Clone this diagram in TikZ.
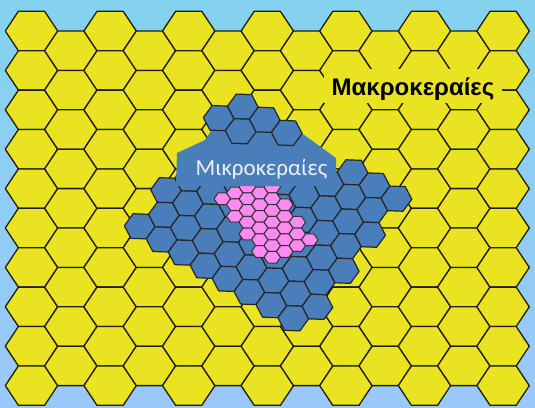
\documentclass[tikz,border=0pt]{standalone}
\usepackage{fontspec}
\setmainfont{Carlito}
\newfontfamily\makrofont{Liberation Sans}
\definecolor{skytop}{RGB}{132,210,238}
\definecolor{skybot}{RGB}{155,200,250}
\definecolor{macroyellow}{RGB}{233,227,33}
\definecolor{microblue}{RGB}{74,126,187}
\definecolor{picopink}{RGB}{255,138,242}
\definecolor{hexline}{RGB}{30,30,15}
\definecolor{microtext}{RGB}{238,240,244}
\newcommand{\hexat}[5]{\path[#5] ({#1-#3},{#2}) -- ({#1-#3/2},{#2-#4}) -- ({#1+#3/2},{#2-#4}) -- ({#1+#3},{#2}) -- ({#1+#3/2},{#2+#4}) -- ({#1-#3/2},{#2+#4}) -- cycle;}
% hexagon in lattice units (p,q): neighbours at (p+1,q) and (p,q+1)
\newcommand{\latticehex}[3]{\path[#3] ({#1+2/3},{#2-1/3}) -- ({#1+1/3},{#2+1/3}) -- ({#1-1/3},{#2+2/3}) -- ({#1-2/3},{#2+1/3}) -- ({#1-1/3},{#2-1/3}) -- ({#1+1/3},{#2-2/3}) -- cycle;}
\tikzset{
  macrocell/.style={fill=macroyellow,draw=hexline,line width=1.3pt,line join=round},
  microcell/.style={fill=microblue,draw=black!85,line width=1.2pt,line join=round},
  picocell/.style={fill=picopink,draw=black!80,line width=1pt,line join=round},
}
\begin{document}
\begin{tikzpicture}[x=1pt,y=-1pt]
\useasboundingbox (0,0) rectangle (535,407);
\shade[top color=skytop,bottom color=skybot] (0,0) rectangle (535,407);
% macro cells
\foreach \c in {0,...,12} {
  \pgfmathsetmacro\cx{31.5+39.3*\c}
  \pgfmathtruncatemacro\odd{mod(\c,2)}
  \pgfmathtruncatemacro\nr{9-\odd}
  \foreach \r in {0,...,\nr} {
    \pgfmathsetmacro\cy{31+19.7*\odd+39.4*\r}
    \hexat{\cx}{\cy}{26.2}{19.7}{macrocell}
  }
}
% micro cells (lower part), sheared lattice
\begin{scope}[shift={(139.7,226.3)},x={(21.94pt,-13.14pt)},y={(-2.2pt,-24.6pt)}]
\foreach \p/\qa/\qb in {0/0/0,1/-2/0,2/-3/0,3/-4/0,4/-5/0,5/-6/0,6/-6/0,7/-6/0,8/-6/-1,9/-7/-3,10/-7/-5,11/-7/-7} {
  \foreach \q in {\qa,...,\qb} {
    \latticehex{\p}{\q}{microcell}
  }
}
\end{scope}
% pico cells
\foreach \k/\na/\nb in {0/0/0,1/-1/3,2/-2/6,3/-1/9,4/-2/10,5/1/9,6/4/8,7/7/7} {
  \pgfmathtruncatemacro\cnt{(\nb-(\na))/2}
  \foreach \j in {0,...,\cnt} {
    \pgfmathsetmacro\cx{222.3+12.5*\k}
    \pgfmathsetmacro\cy{198.8+5.85*((\na)+2*\j)}
    \hexat{\cx}{\cy}{8.3}{5.85}{picocell}
  }
}
% plain blue area behind the label
\fill[microblue] (211,131) -- (300,131) -- (301.5,133) -- (336,158) -- (336,186) -- (176,186) -- (177,153) -- (205,140) -- cycle;
% micro cells (top cluster)
\begin{scope}[shift={(139.7,226.3)},x={(21.94pt,-13.14pt)},y={(-2.2pt,-24.6pt)}]
\foreach \p/\q in {3/-6,4/-7,4/-6,5/-7,6/-7} {
  \latticehex{\p}{\q}{microcell}
}
\end{scope}
\node[anchor=base,text=microtext,font=\fontsize{23}{23}\selectfont,inner sep=0pt] (microlabel) at (261.5,175) {Μικροκεραίες};
\node[anchor=base,text=black,fill=macroyellow,font=\makrofont\bfseries\fontsize{24}{24}\selectfont,inner ysep=0pt,inner xsep=8pt,text height=26pt,text depth=8pt] (macrolabel) at (413,95) {Μακροκεραίες};
\end{tikzpicture}
\end{document}
